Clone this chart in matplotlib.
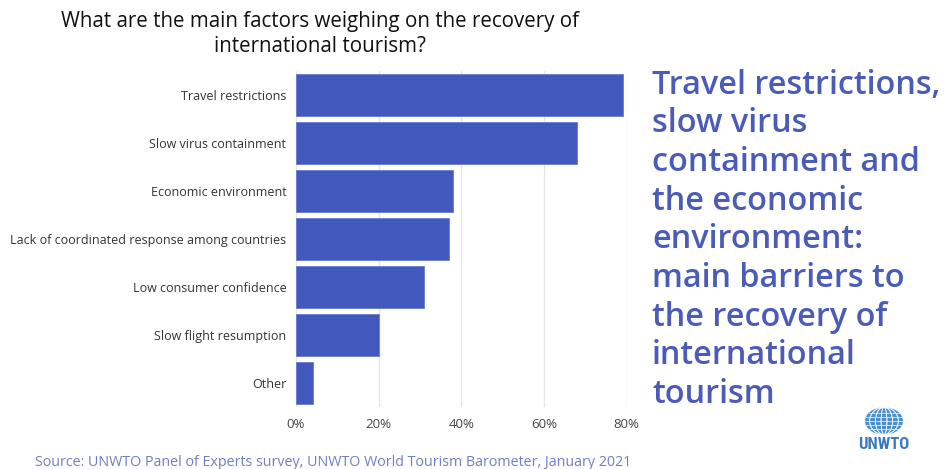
import matplotlib.pyplot as plt
import numpy as np
from matplotlib.patches import Ellipse

factors = ["Travel restrictions", "Slow virus containment", "Economic environment",
           "Lack of coordinated response among countries", "Low consumer confidence",
           "Slow flight resumption", "Other"]
shares = [79, 68, 38, 37, 31, 20, 4]
xticks = [0, 20, 40, 60, 80]
xtick_labels = ["0%", "20%", "40%", "60%", "80%"]

bar_color = "#4358BD"
text_blue = "#4A5BB8"

plt.rcParams['font.family'] = ['Open Sans', 'DejaVu Sans']

fig = plt.figure(figsize=(9.44, 4.69), dpi=100)
ax = fig.add_axes([296/944, 1-407/469, 330.7/944, 336/469])

y = np.arange(len(factors))
ax.barh(y, shares, height=0.875, color=bar_color, edgecolor="#6a7bd0", linewidth=0.6, zorder=3)
ax.set_ylim(len(factors)-0.5, -0.5)
ax.set_xlim(0, 80)
ax.set_yticks(y)
ax.set_yticklabels(factors, fontsize=9, color="#333333")
ax.set_xticks(xticks)
ax.set_xticklabels(xtick_labels, fontsize=9.5, color="#444444")
ax.tick_params(length=0, pad=7)
ax.tick_params(axis="x", pad=8)
ax.grid(axis="x", color="#e6e6e6", linewidth=1, zorder=0)
for s in ax.spines.values():
    s.set_visible(False)

# title
fig.text(320/944, 1-21/469, "What are the main factors weighing on the recovery of",
         ha="center", va="center", fontsize=14.8, color="#111111")
fig.text(320/944, 1-47/469, "international tourism?",
         ha="center", va="center", fontsize=14.8, color="#111111")

# right-hand message
msg = ["Travel restrictions,", "slow virus", "containment and", "the economic",
       "environment:", "main barriers to", "the recovery of", "international", "tourism"]
for i, line in enumerate(msg):
    fig.text(652/944, 1-(85 + i*38.7)/469, line, ha="left", va="center",
             fontsize=23.3, fontweight="semibold", color=text_blue)

# source
fig.text(35/944, 1-462/469,
         "Source: UNWTO Panel of Experts survey, UNWTO World Tourism Barometer, January 2021",
         ha="left", va="center", fontsize=10.3, color="#6f7fc4")

# logo
lax = fig.add_axes([865/944, 1-435/469, 38/944, 28/469])
lax.set_xlim(-1, 1)
lax.set_ylim(-1, 1)
lax.axis("off")
lax.add_patch(Ellipse((0, 0), 2, 1.95, facecolor="#4c8fcf", edgecolor="none"))
for k in [-0.75, -0.45, -0.15, 0.15, 0.45, 0.75]:
    lax.add_patch(Ellipse((0, 0), 2*abs(k)+0.01, 1.95, facecolor="none", edgecolor="white", linewidth=0.5))
for h in [-0.6, -0.3, 0, 0.3, 0.6]:
    w = np.sqrt(max(1 - (h/0.975)**2, 0))
    lax.plot([-w, w], [h, h], color="white", linewidth=0.5)
fig.text(884/944, 1-444/469, "UNWTO", ha="center", va="center", fontsize=12,
         fontweight="bold", color="#3b79bd", family=["Roboto Condensed", "Liberation Sans Narrow", "DejaVu Sans"])

fig.savefig("out.png", dpi=100)
